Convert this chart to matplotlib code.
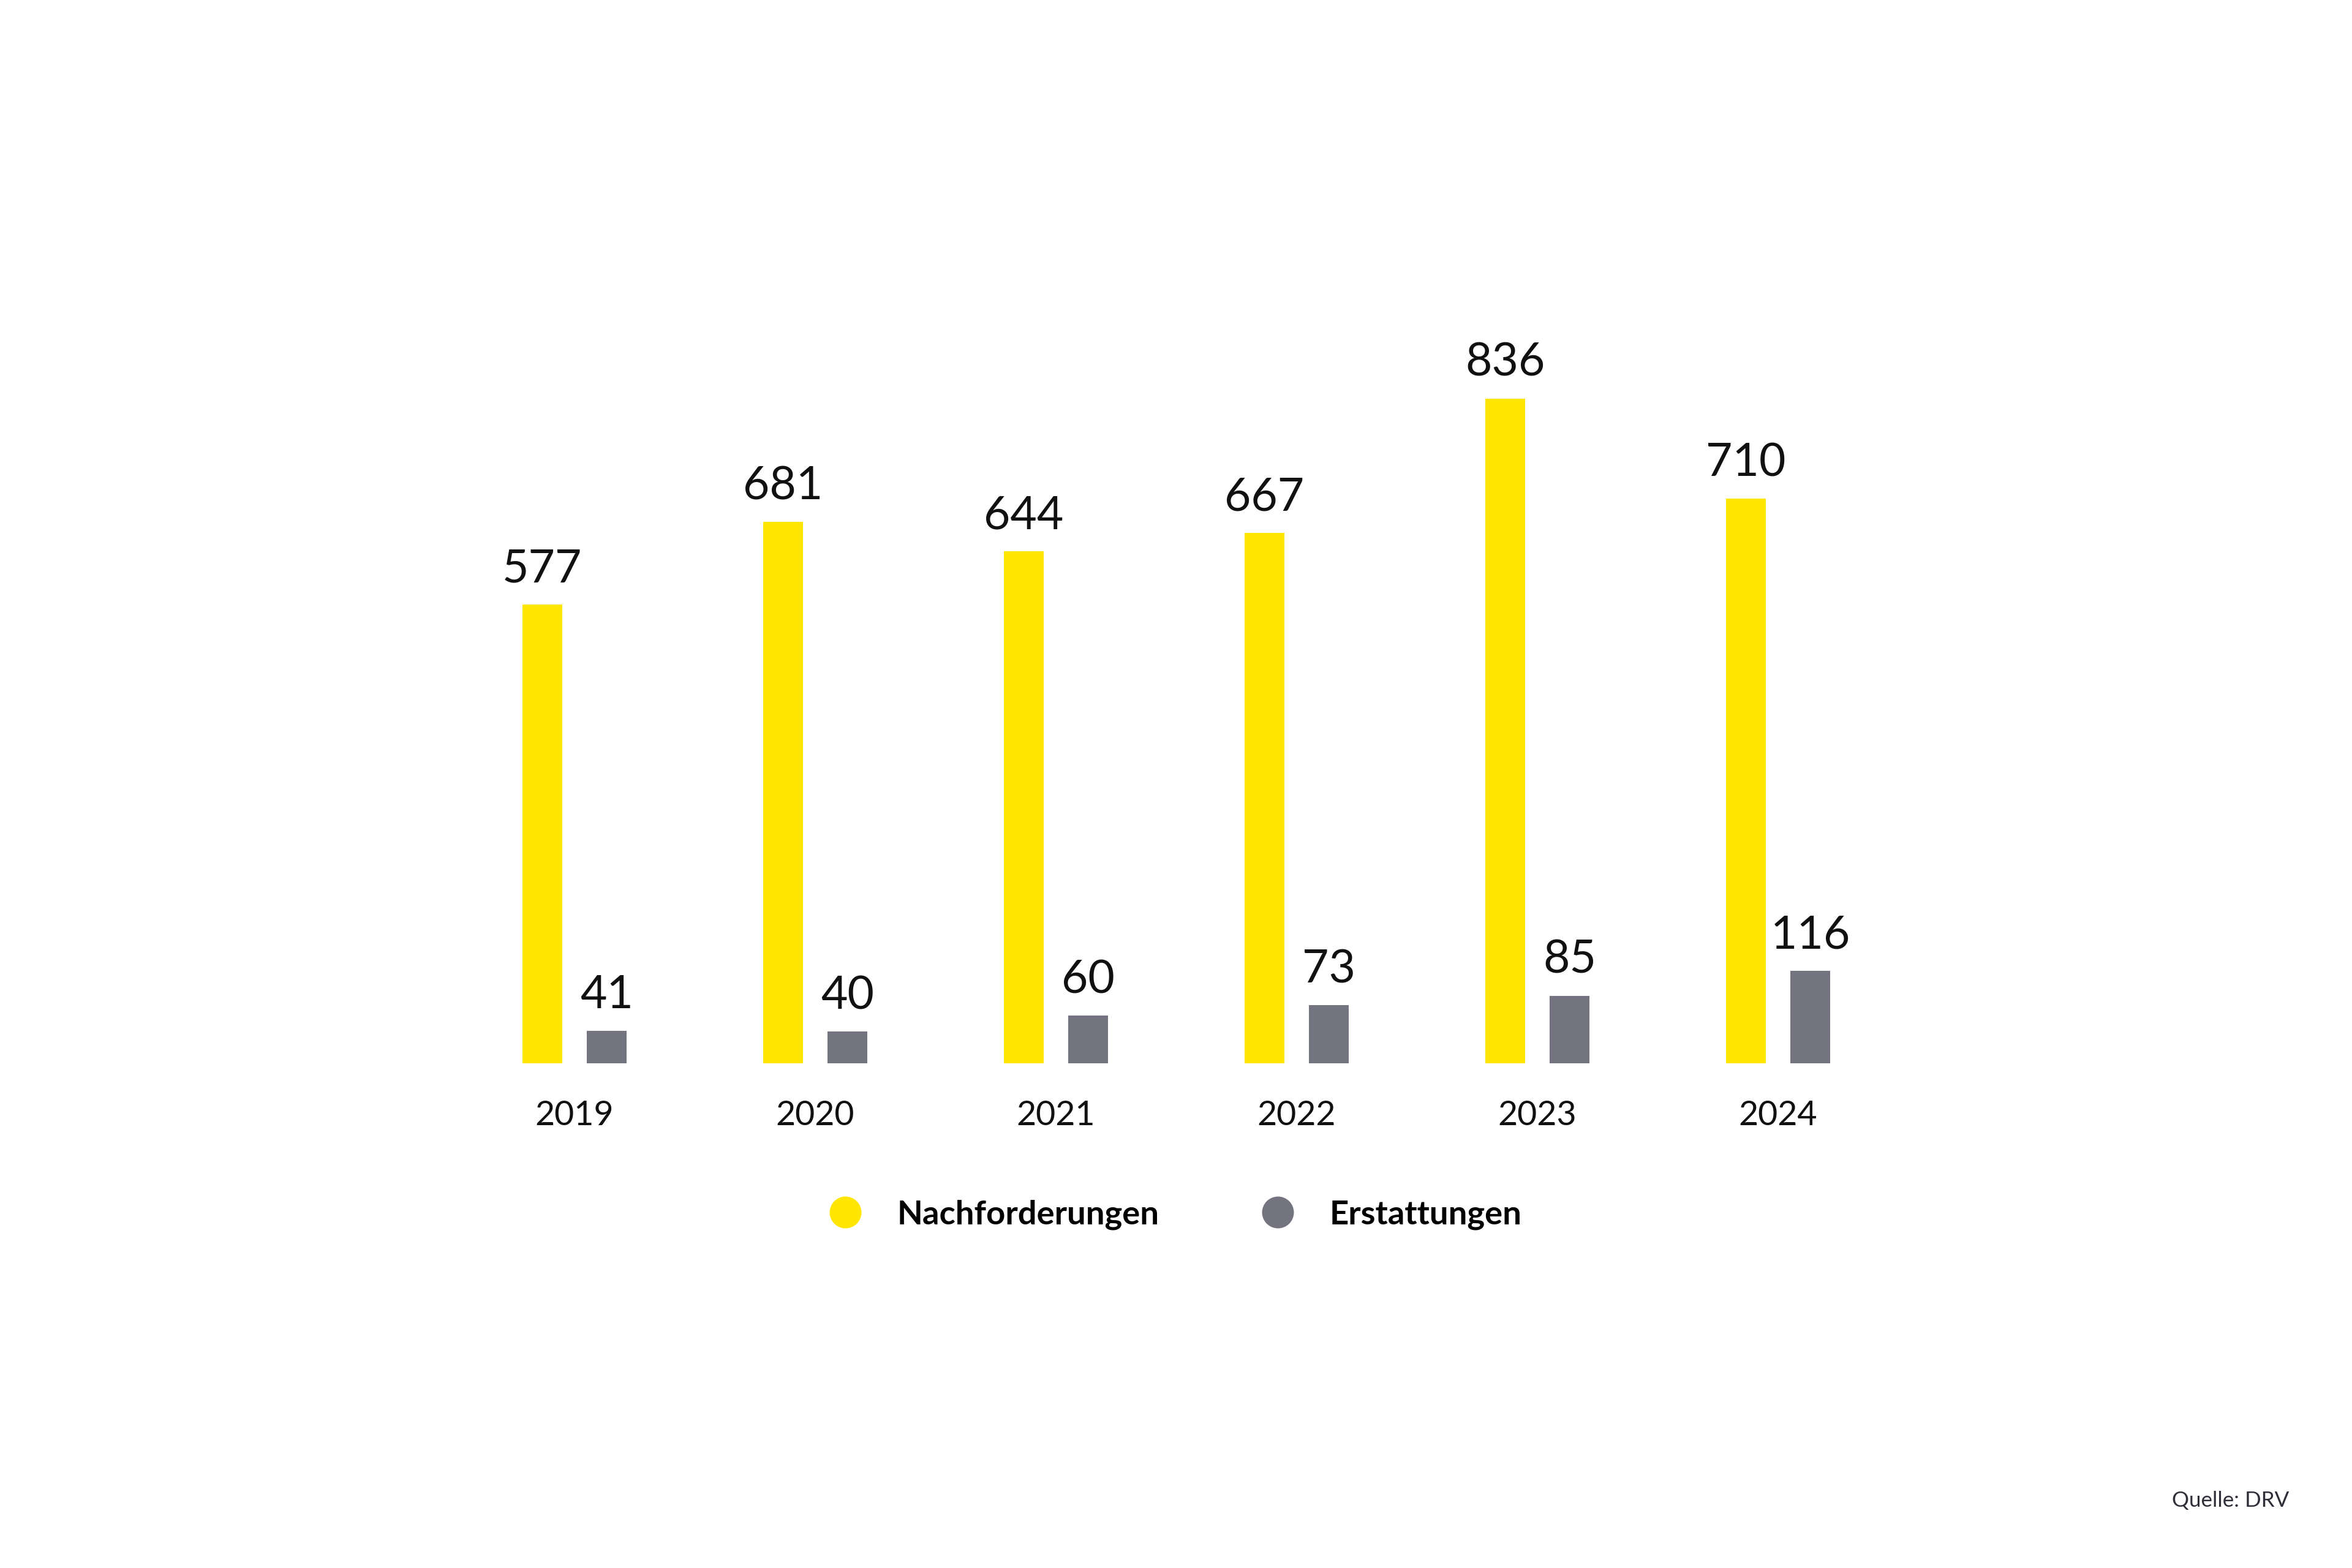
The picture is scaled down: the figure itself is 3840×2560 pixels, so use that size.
import numpy as np
import matplotlib
matplotlib.use('Agg')
from matplotlib import pyplot as plt
from matplotlib.lines import Line2D

# Daten (Mio. Euro, DRV)
years = ['2019', '2020', '2021', '2022', '2023', '2024']
nachforderungen = [577, 681, 644, 667, 836, 710]
erstattungen = [41, 40, 60, 73, 85, 116]
series_names = ['Nachforderungen', 'Erstattungen']
source = 'Quelle: DRV'

YELLOW = '#FFE600'
GREY = '#747480'
TEXT = '#111111'

plt.rcParams['font.family'] = ['Lato', 'DejaVu Sans']

W, H, DPI = 3840, 2560, 200
fig = plt.figure(figsize=(W / DPI, H / DPI), dpi=DPI)
fig.patch.set_facecolor('white')
ax = fig.add_axes([0, 0, 1, 1])
ax.axis('off')

x = np.arange(len(years))
width = 0.167
off = 0.134

b1 = ax.bar(x - off, nachforderungen, width, color=YELLOW)
b2 = ax.bar(x + off, erstattungen, width, color=GREY)

# pixel layout: group spacing ~393 px, first group centre at 938 px, baseline at y=1736 px
group_px = 393.0
unit_px = 1.298
ax.set_xlim(-938 / group_px, (W - 938) / group_px)
ax.set_ylim(-(H - 1736) / unit_px, 1736 / unit_px)

for bars in (b1, b2):
    for rect in bars:
        h = rect.get_height()
        ax.annotate(f'{h:.0f}', (rect.get_x() + rect.get_width() / 2, h),
                    xytext=(0, 13.3), textcoords='offset points',
                    ha='center', va='baseline', fontsize=27, color=TEXT)

for xi, yr in zip(x, years):
    ax.annotate(yr, (xi, 0), xytext=(0, -36.4), textcoords='offset points',
                ha='center', va='baseline', fontsize=20, color=TEXT)

handles = [Line2D([], [], ls='none', marker='o', markersize=18.7,
                  markerfacecolor=c, markeredgecolor='none')
           for c in (YELLOW, GREY)]
fig.legend(handles, series_names, loc='center', bbox_to_anchor=(0.4997, 1 - 1983 / H),
           ncol=2, frameon=False, handlelength=1.0, handletextpad=1.05,
           columnspacing=3.05, borderpad=0,
           prop={'weight': 'bold', 'size': 19.6})

fig.text(3737 / W, 1 - 2460 / H, source, ha='right', va='baseline',
         fontsize=12.6, color='#2E2E38')

fig.savefig('out.png', dpi=DPI, facecolor='white')
